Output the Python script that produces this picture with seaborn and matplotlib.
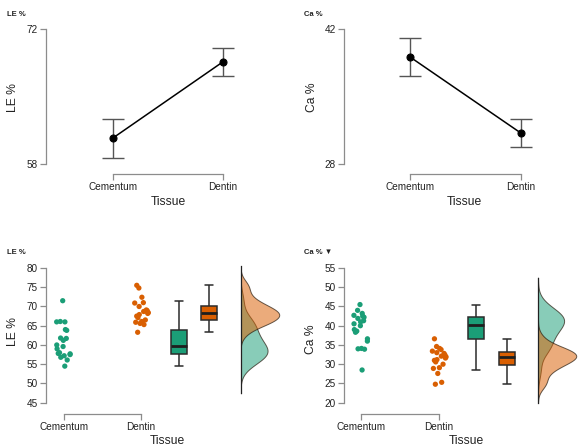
import numpy as np
import pandas as pd
import matplotlib
matplotlib.use("Agg")
import matplotlib.pyplot as plt
import seaborn as sns

# ---------------- data ----------------
tissues = ["Cementum", "Dentin"]

# descriptives (top panels): mean and 95% CI
le_mean = [60.7, 68.6]
le_ci_low = [58.6, 67.1]
le_ci_high = [62.7, 70.0]
ca_mean = [39.1, 31.2]
ca_ci_low = [37.1, 29.8]
ca_ci_high = [41.1, 32.7]

# raw observations (bottom panels)
le_cementum = [54.5, 56.1, 56.8, 57.2, 57.5, 57.7, 57.8, 58.0, 59.0, 59.6,
               60.0, 61.2, 61.7, 61.8, 63.8, 64.0, 66.0, 66.0, 66.1, 71.5]
le_dentin = [63.3, 65.3, 65.6, 65.9, 66.1, 66.5, 67.1, 67.5, 67.9, 68.2,
             68.4, 68.7, 68.9, 69.1, 70.0, 70.9, 71.0, 72.4, 74.8, 75.5]
ca_cementum = [28.5, 33.9, 34.0, 34.1, 36.0, 36.6, 38.3, 38.6, 39.0, 40.0,
               40.5, 41.0, 41.3, 41.9, 42.2, 42.5, 42.7, 43.2, 44.0, 45.5]
ca_dentin = [24.8, 25.3, 27.6, 28.9, 29.1, 30.0, 30.6, 31.0, 31.2, 31.6,
             31.9, 32.1, 32.4, 32.8, 33.0, 33.4, 33.8, 34.1, 34.6, 36.6]

le_top_ticks = [58, 72]
ca_top_ticks = [28, 42]
le_ticks = [45, 50, 55, 60, 65, 70, 75, 80]
ca_ticks = [20, 25, 30, 35, 40, 45, 50, 55]

# ---------------- style ----------------
sns.set_style("ticks")
plt.rcParams["font.family"] = ["Liberation Sans", "DejaVu Sans"]

palette = {"Cementum": "#1b9e77", "Dentin": "#d95f02"}
SPINE = "#8c8c8c"
TXT = "#222222"

W, H = 584, 448
fig = plt.figure(figsize=(W / 100, H / 100), dpi=100)


def px_axes(left, top, right, bottom):
    return fig.add_axes([left / W, 1 - bottom / H, (right - left) / W, (bottom - top) / H])


def style_axes(ax, yticks, xbounds=(0, 1), offset=7):
    sns.despine(ax=ax)
    for s in ("left", "bottom"):
        ax.spines[s].set_color(SPINE)
        ax.spines[s].set_linewidth(0.9)
    ax.spines["left"].set_bounds(yticks[0], yticks[-1])
    ax.spines["bottom"].set_bounds(*xbounds)
    ax.spines["bottom"].set_position(("outward", offset))
    ax.set_yticks(yticks)
    ax.set_yticklabels([str(t) for t in yticks])
    ax.set_xticks([0, 1])
    ax.set_xticklabels(tissues)
    ax.tick_params(axis="both", labelsize=7.2, colors=SPINE, labelcolor=TXT,
                   length=4, width=0.9, direction="out", pad=2)


def top_panel(ax, means, lo, hi, yticks, ylabel, xlim, ylab_x):
    df = pd.DataFrame({"Tissue": tissues, "val": means})
    m = np.array(means)
    ax.errorbar([0, 1], m, yerr=[m - np.array(lo), np.array(hi) - m], fmt="none",
                ecolor="#555555", elinewidth=1.0, capsize=8, capthick=1.0, zorder=2)
    sns.pointplot(data=df, x="Tissue", y="val", color="black", errorbar=None,
                  markers="o", markersize=5, linewidth=1.1, ax=ax, zorder=3)
    for c in ax.collections + ax.lines:
        c.set_clip_on(False)
    ax.set_xlim(*xlim)
    ax.set_ylim(yticks[0], yticks[-1])
    style_axes(ax, yticks)
    ax.set_xlabel("Tissue", fontsize=8.7, color=TXT)
    ax.set_ylabel(ylabel, fontsize=8.7, color=TXT)
    ax.xaxis.label.set_va("center")
    ax.yaxis.label.set_va("center")
    ax.xaxis.set_label_coords(0.5, -0.281)
    ax.yaxis.set_label_coords(ylab_x, 0.495)


def bottom_panel(ax, axd, cem, den, yticks, ylabel, xlim, box_pos, tissue_x, ylab_x, ylab_y):
    df = pd.DataFrame({
        "Tissue": ["Cementum"] * len(cem) + ["Dentin"] * len(den),
        "val": cem + den,
    })
    df["pos"] = df["Tissue"].map({"Cementum": 0, "Dentin": 1})
    np.random.seed(3)
    sns.stripplot(data=df, x="pos", y="val", hue="Tissue", palette=palette,
                  native_scale=True, orient="x", jitter=0.1, size=3.8,
                  linewidth=0, legend=False, ax=ax)
    for name, vals, p in zip(tissues, [cem, den], box_pos):
        sns.boxplot(x=[p] * len(vals), y=vals, native_scale=True, orient="x",
                    width=0.21, color=palette[name], saturation=1,
                    linecolor="#2b2b2b", linewidth=1.1, fliersize=0,
                    medianprops=dict(linewidth=2.0, color="#1e1e1e"), ax=ax)
    ax.set_xlim(*xlim)
    ax.set_ylim(yticks[0], yticks[-1])
    style_axes(ax, yticks, offset=8)
    ax.set_xlabel("Tissue", fontsize=8.7, color=TXT)
    ax.set_ylabel(ylabel, fontsize=8.7, color=TXT)
    ax.xaxis.label.set_va("center")
    ax.yaxis.label.set_va("center")
    ax.xaxis.set_label_coords(tissue_x, -0.282)
    ax.yaxis.set_label_coords(ylab_x, ylab_y)

    # half-density (raincloud) on the right
    for name, vals in zip(tissues, [cem, den]):
        sns.kdeplot(y=vals, fill=True, color=palette[name], alpha=0.52,
                    edgecolor=(0.15, 0.1, 0.05, 0.7), linewidth=0.7, ax=axd)
    ys, xs = [], []
    for coll in axd.collections:
        for p in coll.get_paths():
            ys.extend(p.vertices[:, 1])
            xs.extend(p.vertices[:, 0])
    axd.set_ylim(yticks[0], yticks[-1])
    axd.set_xlim(0, max(xs) * 1.02)
    sns.despine(ax=axd, bottom=True)
    axd.spines["left"].set_bounds(min(ys), max(ys))
    axd.spines["left"].set_color("#222222")
    axd.spines["left"].set_linewidth(0.9)
    axd.set_xticks([])
    axd.set_yticks([])
    axd.set_xlabel("")
    axd.set_ylabel("")
    axd.patch.set_alpha(0)


# ---------------- top-left: LE % ----------------
ax1 = px_axes(46, 29, 290, 164)
top_panel(ax1, le_mean, le_ci_low, le_ci_high, le_top_ticks, "LE %",
          ((46 - 113) / 110, (290 - 113) / 110), -0.135)

# ---------------- top-right: Ca % ----------------
ax2 = px_axes(344, 29, 584, 164)
top_panel(ax2, ca_mean, ca_ci_low, ca_ci_high, ca_top_ticks, "Ca %",
          ((344 - 410) / 111, (584 - 410) / 111), -0.133)

# ---------------- bottom-left: LE % raincloud ----------------
ax3 = px_axes(46, 268, 232, 402.7)
ax3d = px_axes(240.5, 268, 280, 402.7)
bottom_panel(ax3, ax3d, le_cementum, le_dentin, le_ticks, "LE %",
             ((46 - 64) / 77, (232 - 64) / 77), (1.49, 1.88), 0.653, -0.18, 0.527)

# ---------------- bottom-right: Ca % raincloud ----------------
ax4 = px_axes(344, 268, 530, 402.7)
ax4d = px_axes(538, 268, 577, 402.7)
bottom_panel(ax4, ax4d, ca_cementum, ca_dentin, ca_ticks, "Ca %",
             ((344 - 361.3) / 77.4, (530 - 361.3) / 77.4), (1.48, 1.88), 0.656, -0.177, 0.473)

# small panel titles
for (x, y, t) in [(7, 14, "LE %"), (304, 14, "Ca %"), (7, 252.5, "LE %"), (304, 252, "Ca % \u25bc")]:
    fig.text(x / W, 1 - y / H, t, fontsize=5.5, fontweight="bold", color="#222222",
             ha="left", va="center")

fig.savefig("out.png", dpi=100, facecolor="white")
